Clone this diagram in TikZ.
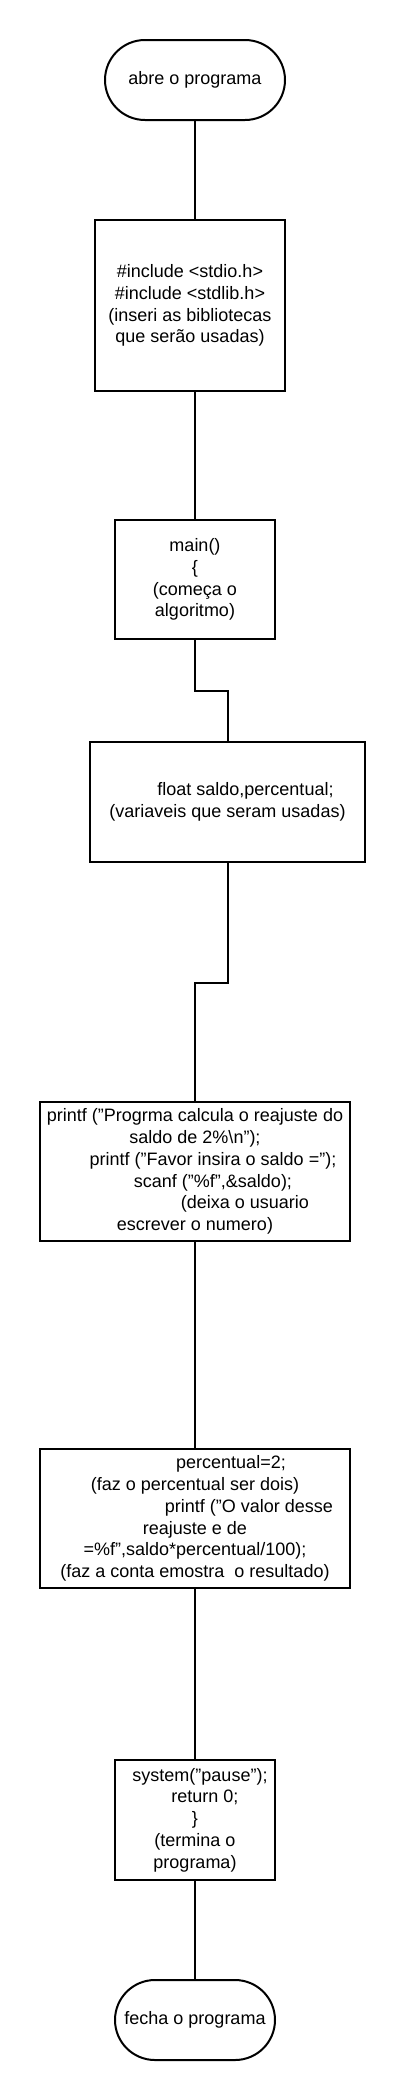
\documentclass[tikz,border=0pt]{standalone}
\usepackage{fontspec}
\setmainfont{Liberation Sans}
\usepackage{tikz}
\usetikzlibrary{positioning, calc}

\begin{document}
\begin{tikzpicture}[x=0.5pt, y=-0.5pt,
  every node/.style={font=\fontsize{9}{10.85}\selectfont, align=center, inner sep=0pt},
  caixa/.style={draw, line width=1pt},
  terminal/.style={draw, line width=1pt, rounded corners=20pt},
  liga/.style={line width=1pt}]
\useasboundingbox (0,0) rectangle (405,2100);

% blocos do fluxograma
\node[terminal, minimum width=90pt, minimum height=40pt] (abre) at (195,80) {abre o programa};
\node[caixa, minimum width=95pt, minimum height=85.5pt] (incl) at (190,305.5)
  {\#include <stdio.h>\\ \#include <stdlib.h>\\ (inseri as bibliotecas\\ que serão usadas)};
\node[caixa, minimum width=80pt, minimum height=59.5pt] (main) at (195,579.5)
  {main()\\ \{\\ (começa o\\ algoritmo)};
\node[caixa, minimum width=137.5pt, minimum height=60pt] (var) at (227.5,802)
  {\hspace*{18pt}float saldo,percentual;\\ (variaveis que seram usadas)};
\node[caixa, minimum width=155pt, minimum height=69.5pt] (ler) at (195,1171.5)
  {printf ("Progrma calcula o reajuste do\\ saldo de 2\%\textbackslash n");\\
   \hspace*{18pt}printf ("Favor insira o saldo =");\\ \hspace*{18pt}scanf ("\%f",\&saldo);\\
   \hspace*{50pt}(deixa o usuario\\ escrever o numero)};
\node[caixa, minimum width=155pt, minimum height=69.5pt] (conta) at (195,1518.5)
  {\hspace*{36pt}percentual=2;\\ (faz o percentual ser dois)\\ \hspace*{54pt}printf ("O valor desse\\
   reajuste e de\\ =\%f",saldo*percentual/100);\\ (faz a conta emostra\ \ o resultado)};
\node[caixa, minimum width=80pt, minimum height=60pt] (fim) at (195,1820)
  {\hspace*{5pt}system("pause");\\ \hspace*{10pt}return 0;\\ \}\\ (termina o\\ programa)};
\node[terminal, minimum width=80pt, minimum height=40pt] (fecha) at (195,2020) {fecha o programa};

% ligacoes
\draw[liga] (abre.south) -- (incl.north -| abre.south);
\draw[liga] (incl.south -| main.north) -- (main.north);
\draw[liga] (main.south) -- ++(0,51) -| (var.north);
\draw[liga] (var.south) -- ++(0,120) -| (ler.north);
\draw[liga] (ler.south) -- (conta.north);
\draw[liga] (conta.south) -- (fim.north);
\draw[liga] (fim.south) -- (fecha.north);
\end{tikzpicture}
\end{document}
